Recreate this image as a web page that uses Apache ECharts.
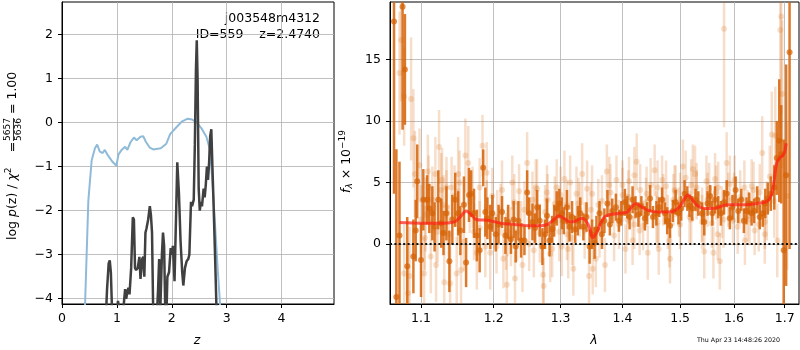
<!DOCTYPE html>
<html>
<head>
<meta charset="utf-8">
<script src="https://cdn.jsdelivr.net/npm/echarts@6/dist/echarts.min.js"></script>
<style>
  html, body { margin: 0; padding: 0; background: #fff; }
  #main { width: 800px; height: 350px; }
</style>
</head>
<body>
<div id="main"></div>
<script>
// ---- left panel: log p(z) ----
const zBlue = [0.38, 0.42, 0.48, 0.54, 0.60, 0.64, 0.69, 0.74, 0.78, 0.84, 0.92, 0.99, 1.03, 1.08, 1.15, 1.19, 1.25, 1.31, 1.36, 1.43, 1.48, 1.53, 1.60, 1.66, 1.80, 1.90, 1.97, 2.08, 2.19, 2.29, 2.37, 2.45, 2.54, 2.63, 2.69, 2.73, 2.78, 2.84, 2.90, 2.95]
const lpBlue = [-6.0, -4.13, -1.77, -0.86, -0.58, -0.50, -0.66, -0.69, -0.62, -0.75, -0.89, -0.98, -0.72, -0.63, -0.55, -0.62, -0.44, -0.34, -0.40, -0.32, -0.31, -0.44, -0.57, -0.61, -0.58, -0.48, -0.26, -0.11, 0.03, 0.09, 0.07, 0.01, -0.13, -0.32, -0.59, -1.16, -2.15, -3.4, -4.5, -5.5]

const zDark = [0.78, 0.82, 0.85, 0.87, 0.89, 0.91, 0.94, 0.98, 1.02, 1.05, 1.08, 1.12, 1.15, 1.17, 1.19, 1.21, 1.23, 1.26, 1.29, 1.31, 1.33, 1.35, 1.38, 1.41, 1.43, 1.46, 1.48, 1.50, 1.52, 1.54, 1.57, 1.60, 1.62, 1.64, 1.66, 1.69, 1.72, 1.75, 1.77, 1.79, 1.82, 1.84, 1.86, 1.88, 1.90, 1.92, 1.95, 1.98, 2.00, 2.02, 2.05, 2.08, 2.10, 2.13, 2.16, 2.19, 2.21, 2.24, 2.27, 2.30, 2.32, 2.35, 2.37, 2.40, 2.42, 2.44, 2.455, 2.47, 2.49, 2.51, 2.53, 2.55, 2.58, 2.60, 2.62, 2.64, 2.66, 2.68, 2.70, 2.72, 2.74, 2.76, 2.79, 2.82, 2.85]
const lpDark = [-5.0, -3.8, -3.2, -3.13, -3.4, -4.2, -5.0, -4.6, -4.05, -4.3, -4.6, -4.2, -3.78, -4.0, -3.85, -3.75, -3.9, -3.3, -2.15, -2.2, -3.3, -3.35, -3.3, -3.05, -3.55, -3.1, -3.05, -3.5, -2.5, -2.4, -2.2, -1.9, -2.1, -2.5, -4.2, -5.0, -4.6, -3.8, -3.1, -4.3, -3.0, -2.5, -2.8, -4.2, -4.5, -3.5, -3.4, -2.85, -3.0, -2.8, -3.6, -2.0, -0.9, -1.6, -2.7, -3.4, -3.7, -3.3, -3.15, -3.1, -3.0, -1.8, -1.9, -1.75, -0.5, 1.2, 1.87, 1.0, -1.5, -2.0, -1.8, -1.9, -1.5, -1.7, -1.4, -1.0, -1.3, -0.9, -0.3, -0.15, -1.0, -1.8, -3.1, -4.5, -5.0]

const zTicks = [0, 1, 2, 3, 4]
const lpTicks = [-4, -3, -2, -1, 0, 1, 2]

// ---- right panel: spectrum ----
const lamDark = [1.065, 1.068, 1.072, 1.076, 1.079, 1.082, 1.090, 1.093, 1.095, 1.100, 1.103, 1.108, 1.111, 1.115, 1.118, 1.123, 1.127, 1.130, 1.134, 1.138, 1.142, 1.146, 1.150, 1.153, 1.158, 1.161, 1.165, 1.168, 1.172, 1.176, 1.180, 1.185, 1.188, 1.191, 1.195,
  1.198, 1.203, 1.207, 1.212, 1.217, 1.221, 1.225, 1.229, 1.232, 1.236, 1.240, 1.245, 1.249, 1.252, 1.257, 1.261, 1.264, 1.268, 1.272, 1.276, 1.279, 1.283, 1.287, 1.290, 1.294, 1.298, 1.302, 1.305, 1.310, 1.314, 1.318, 1.323, 1.327, 1.331, 1.336, 1.341, 1.346, 1.350,
  1.354, 1.357, 1.362, 1.366, 1.370, 1.375, 1.379, 1.383, 1.389, 1.394, 1.398, 1.404, 1.408, 1.412, 1.417, 1.422, 1.427, 1.432, 1.438, 1.442, 1.447, 1.452, 1.458, 1.463, 1.468, 1.473, 1.477, 1.482, 1.487, 1.492, 1.497, 1.502, 1.508, 1.513, 1.517, 1.522, 1.528,
  1.533, 1.540, 1.544, 1.550, 1.555, 1.559, 1.564, 1.570, 1.575, 1.581, 1.586, 1.592, 1.597, 1.603, 1.608, 1.614, 1.619, 1.624, 1.629, 1.634, 1.639, 1.645, 1.650, 1.656, 1.661, 1.666, 1.672, 1.679, 1.684, 1.689, 1.693, 1.698, 1.703, 1.710]
const fluxDark = [18.1, -4.3, 0.7, 19.3, 14.2, -1.8, -1.0, 1.1, 5.1, -1.3, 3.6, 3.6, 2.9, 2.5, 1.4, 3.6, 1.7, 0.9, 2.5, -1.4, 2.0, 3.6, 2.5, 1.1, 3.2, -1.5, 4.0, 4.1, 2.5, 0.7, -0.5, 6.2, 2.6, 2.1, 1.4,
  2.5, 0.8, 1.6, 2.6, 0.7, 1.8, 0.4, 2.0, -0.2, 1.9, 0.3, 0.3, 4.2, 2.5, 1.8, 1.3, 3.0, 1.9, -0.2, 0.8, 2.3, 0.3, 1.2, 1.9, 2.9, 3.3, 2.5, 1.9, 3.0, 1.4, 2.2, 1.2, 1.9, 2.5, 1.4, 2.2, -0.2, 0.8,
  0.1, 1.2, 2.5, 0.8, 1.9, 3.3, 1.6, 2.7, 3.0, 1.9, 2.5, 3.4, 3.0, 2.2, 3.6, 3.0, 2.4, 3.1, 2.1, 2.5, 3.7, 2.2, 2.5, 3.0, 3.6, 2.5, 1.9, 1.5, 2.7, 3.4, 2.5, 2.9, 4.1, 3.7, 3.1, 2.9, 3.6,
  3.3, 2.5, 1.8, 3.3, 3.9, 2.5, 3.6, 3.0, 2.5, 3.4, 4.1, 2.1, 3.0, 4.4, 2.7, 3.6, 1.9, 2.7, 3.3, 2.5, 2.7, 3.6, 2.2, 2.5, 3.3, 3.7, 4.1, 4.6, 7.0, 8.4, 7.3, -0.5, 5.6, 15.6]
const errDark = [14, 12, 6, 10, 4.5, 4, 3, 2.5, 3, 3, 2.5, 2, 2, 2.2, 2, 2.4, 2, 1.8, 2.2, 2.5, 2, 2.2, 1.8, 2, 2.3, 2, 2.2, 1.9, 2, 2.1, 1.8, 1.5, 2, 1.7, 1.8,
  1.5, 1.4, 1.6, 1.3, 1.5, 1.4, 1.2, 1.5, 1.3, 1.6, 1.4, 1.2, 1.8, 1.3, 1.5, 1.2, 1.4, 1.3, 1.5, 1.2, 1.4, 1.3, 1.1, 1.3, 1.4, 1.2, 1.3, 1.1, 1.4, 1.2, 1.3, 1.1, 1.2, 1.3, 1.1, 1.2, 1.4, 1.2,
  1.3, 1.1, 1.0, 1.2, 1.0, 1.1, 0.9, 1.0, 1.1, 0.9, 1.0, 1.1, 0.9, 1.0, 1.1, 0.9, 1.0, 0.8, 1.0, 0.9, 1.1, 0.9, 1.0, 0.8, 1.0, 0.9, 1.1, 1.0, 0.9, 1.0, 0.9, 1.0, 1.1, 1.0, 0.9, 1.0, 0.9,
  1.0, 0.9, 1.1, 1.0, 0.9, 1.0, 1.1, 0.9, 1.0, 1.0, 1.1, 0.9, 1.0, 1.1, 1.0, 0.9, 1.0, 1.1, 0.9, 1.0, 1.0, 1.1, 1.0, 1.1, 1.2, 1.3, 1.4, 1.8, 3.0, 5.0, 4.0, 9.0, 9.0, 16.0]

const lamLight = [1.074, 1.072, 1.078, 1.087, 1.090, 1.092, 1.098, 1.109, 1.119, 1.124, 1.127, 1.134, 1.141, 1.150, 1.160, 1.164, 1.184, 1.190, 1.078, 1.085, 1.113, 1.120, 1.131, 1.139, 1.148, 1.154, 1.176, 1.195, 1.134, 1.106, 1.083, 1.104,
  1.249, 1.237, 1.219, 1.231, 1.214, 1.242, 1.273, 1.274, 1.279, 1.264, 1.294, 1.315, 1.334, 1.342, 1.320, 1.312, 1.345, 1.204, 1.225, 1.257, 1.259, 1.287, 1.302, 1.325, 1.350,
  1.374, 1.390, 1.424, 1.455, 1.505, 1.523, 1.492, 1.441, 1.411, 1.475, 1.371, 1.356, 1.351, 1.405, 1.443, 1.462, 1.482, 1.481, 1.386, 1.429, 1.517, 1.362, 1.417,
  1.581, 1.586, 1.655, 1.674, 1.693, 1.691, 1.695, 1.681, 1.705, 1.544, 1.561, 1.573, 1.621, 1.660, 1.685, 1.569, 1.607, 1.640, 1.527, 1.564, 1.601, 1.634, 1.670, 1.679, 1.553, 1.589,
  1.11, 1.13, 1.15, 1.17, 1.19, 1.21, 1.23, 1.24, 1.26, 1.28, 1.30, 1.31, 1.33, 1.36, 1.38, 1.40, 1.41, 1.43, 1.44, 1.46, 1.47, 1.49, 1.50, 1.52, 1.53, 1.55, 1.57, 1.58, 1.60, 1.62, 1.63, 1.65, 1.66, 1.42, 1.46, 1.50, 1.54, 1.31, 1.22, 1.18,
  1.100, 1.105, 1.115, 1.122, 1.128, 1.137, 1.145, 1.152, 1.158, 1.166, 1.172, 1.180, 1.188, 1.198, 1.205, 1.212, 1.218, 1.227, 1.234, 1.245, 1.252, 1.262, 1.268, 1.276, 1.284, 1.291, 1.298, 1.306, 1.318, 1.328, 1.338, 1.348, 1.366, 1.378, 1.394, 1.400, 1.408, 1.420, 1.435, 1.448, 1.458, 1.468, 1.478, 1.488, 1.498, 1.510, 1.520, 1.530, 1.540, 1.548, 1.558, 1.566, 1.577, 1.592, 1.598, 1.612, 1.626, 1.638, 1.648, 1.664]
const fluxLight = [16.6, 13.9, 12.0, 11.8, 8.6, 5.7, 6.4, 5.9, 5.7, 7.9, 4.4, 4.6, 4.6, 5.7, 7.2, 6.6, 8.0, 5.8, -2.4, -2.6, -1.0, -1.7, -3.1, -3.2, -2.4, -2.1, -0.7, -0.7, 3.0, 2.4, -4.0, -2.4,
  6.6, 4.3, -3.3, -2.8, -1.2, -1.7, -2.5, -3.4, 4.2, 4.5, 4.6, 5.0, 5.7, 4.5, -2.0, -0.4, -2.6, -0.2, 0.6, 3.6, -0.5, -0.4, -0.2, 4.1, 4.1,
  5.9, 5.2, 6.7, 6.0, 6.3, 6.1, 4.3, 4.1, 5.1, 4.7, -1.7, -1.2, -2.0, -0.4, -0.7, -0.4, -1.2, 0.3, 0.7, 1.1, 2.2, 1.1, 0.3,
  17.5, 6.6, 7.4, 8.9, 18.5, 17.4, 12.2, 8.8, 3.9, -0.6, -0.7, -1.4, 0.3, 0.8, 0.3, 0.8, 1.4, 1.1, 5.7, 5.3, 5.2, 4.7, 5.5, 3.5, 4.5, 3.6,
  4.6, 3.2, 2.2, 3.8, 3.0, 2.8, 3.4, 1.5, 2.2, 3.6, 4.0, 3.2, 2.8, 3.2, 4.2, 4.8, 3.8, 4.4, 3.4, 4.6, 3.6, 4.4, 3.6, 4.8, 4.0, 3.6, 4.6, 2.0, 3.8, 4.6, 2.0, 4.2, 1.8, 1.6, 1.8, 1.6, 1.8, 0.8, 1.0, 1.3,
  2.0, 0.5, 3.6, 1.0, 5.2, 0.8, 3.9, 5.0, 0.2, 3.4, 1.0, 4.6, -0.2, 3.9, 2.2, 4.4, 0.2, 5.0, 1.0, 2.8, 0.0, 4.6, 0.9, 2.6, -0.8, 3.3, 1.0, 5.3, 0.5, 3.3, 1.1, 2.8, 3.5, 4.8, 1.6, 4.0, 2.0, 5.6, 1.5, 4.8, 2.2, 5.2, 1.8, 3.6, 2.6, 5.4, 2.0, 4.6, 2.4, 5.1, 1.7, 4.2, 2.6, 4.9, 1.9, 3.8, 2.3, 4.4, 1.6, 2.7]
const errLight = [5, 5, 4, 5, 4, 3.5, 3, 3, 3, 3, 3, 2.5, 2.5, 3, 3, 3, 2.5, 2.5, 4, 4, 3, 3, 3, 3, 3, 3, 3, 3, 3, 3, 4, 3,
  2.5, 2.2, 2.5, 2.2, 2.4, 2.2, 2.5, 2.3, 2.2, 2.4, 2.3, 2.2, 2.5, 2.3, 2.2, 2.4, 2.3, 2.2, 2.4, 2.3, 2.2, 2.3, 2.4, 2.2, 2.3,
  2.2, 2.0, 2.3, 2.1, 2.2, 2.0, 2.1, 2.2, 2.0, 2.1, 2.2, 2.3, 2.1, 2.0, 2.2, 2.1, 2.0, 2.2, 2.1, 2.0, 2.1, 2.2, 2.0,
  8, 2.5, 3, 3.5, 8, 8, 6, 4, 6, 2.2, 2.1, 2.3, 2.0, 2.4, 3.0, 2.1, 2.2, 2.0, 2.3, 2.1, 2.0, 2.2, 2.5, 3.0, 2.1, 2.2,
  2.6, 2.4, 2.3, 2.5, 2.2, 2.1, 2.3, 2.0, 2.2, 2.1, 2.3, 2.0, 2.2, 2.1, 2.3, 2.0, 2.2, 2.1, 2.0, 2.2, 2.1, 2.0, 2.2, 2.1, 2.0, 2.2, 2.1, 2.3, 2.0, 2.2, 2.1, 2.3, 2.2, 2.0, 2.1, 2.0, 2.2, 2.1, 2.0, 2.2,
  2.8, 2.6, 2.7, 2.5, 2.6, 2.4, 2.5, 2.6, 2.4, 2.5, 2.3, 2.4, 2.5, 2.3, 2.2, 2.4, 2.3, 2.2, 2.4, 2.3, 2.2, 2.3, 2.4, 2.2, 2.3, 2.2, 2.4, 2.3, 2.2, 2.1, 2.3, 2.2, 2.1, 2.3, 2.0, 2.2, 2.1, 2.3, 2.0, 2.2, 2.1, 2.0, 2.2, 2.1, 2.0, 2.2, 2.1, 2.0, 2.2, 2.1, 2.0, 2.2, 2.1, 2.3, 2.0, 2.2, 2.1, 2.3, 2.2, 2.4]

// best-fit model
const lamModel = [1.072, 1.10, 1.13, 1.145, 1.153, 1.161, 1.168, 1.175, 1.185, 1.195, 1.21, 1.23, 1.25, 1.27, 1.28, 1.29, 1.297, 1.305, 1.315, 1.325, 1.333, 1.34, 1.346, 1.351, 1.357, 1.363, 1.370, 1.38, 1.396, 1.408, 1.415, 1.422, 1.43, 1.443, 1.46, 1.478, 1.49, 1.50, 1.508, 1.514, 1.522, 1.532, 1.545, 1.56, 1.588, 1.62, 1.645, 1.66, 1.668, 1.674, 1.678, 1.684, 1.690, 1.696, 1.700, 1.703]
const fluxModel = [1.75, 1.7, 1.7, 1.8, 2.2, 2.7, 2.4, 2.0, 1.95, 1.9, 1.7, 1.6, 1.5, 1.5, 1.6, 2.0, 2.3, 2.1, 1.8, 1.9, 2.1, 1.9, 1.3, 0.5, 0.9, 1.6, 2.2, 2.4, 2.5, 2.6, 3.0, 3.3, 3.1, 2.76, 2.6, 2.6, 2.7, 3.1, 3.7, 4.0, 3.6, 3.1, 2.9, 2.9, 3.2, 3.2, 3.3, 3.4, 3.6, 4.1, 5.0, 6.6, 7.0, 7.2, 7.5, 8.2]

const lamTicks = [1.1, 1.2, 1.3, 1.4, 1.5, 1.6, 1.7]
const fluxTicks = [0, 5, 10, 15]

const FONT = 'DejaVu Sans'
const lamMin = 1.0599
const lamMax = 1.7294
const log10 = Math.log10

const chart = echarts.init(document.getElementById('main'))

function zip (xs, ys) {
  return xs.map((x, i) => [x, ys[i]])
}

// error bars through the axis coordinates
function errorBars (lam, flux, err, color, width) {
  return {
    type: 'custom',
    xAxisIndex: 1,
    yAxisIndex: 1,
    clip: true,
    silent: true,
    data: lam.map((l, i) => [log10(l), flux[i] - err[i], flux[i] + err[i]]),
    renderItem: function (params, api) {
      const lo = api.coord([api.value(0), api.value(1)])
      const hi = api.coord([api.value(0), api.value(2)])
      return {
        type: 'line',
        shape: { x1: lo[0], y1: lo[1], x2: hi[0], y2: hi[1] },
        style: { stroke: color, lineWidth: width }
      }
    }
  }
}

function axisCommon (ticks) {
  return {
    axisLine: { show: true, onZero: false, lineStyle: { color: '#000', width: 1 } },
    axisTick: { show: true, length: 4, customValues: ticks, lineStyle: { color: '#000', width: 1 } },
    splitLine: { show: true, lineStyle: { color: '#b0b0b0', width: 0.8 } }
  }
}

const minus = v => String(v).replace('-', '\u2212')

const option = {
  animation: false,
  backgroundColor: '#fff',
  grid: [
    { left: 62, top: 2, width: 272, height: 302, show: true, borderColor: '#000', borderWidth: 1 },
    { left: 390, top: 2, width: 409, height: 302, show: true, borderColor: '#000', borderWidth: 1 }
  ],
  xAxis: [
    Object.assign({
      type: 'value', gridIndex: 0, min: 0, max: 4.955,
      axisLabel: { customValues: zTicks, color: '#000', fontSize: 12.5, fontFamily: FONT, margin: 8 }
    }, axisCommon(zTicks)),
    Object.assign({
      type: 'value', gridIndex: 1, min: log10(lamMin), max: log10(lamMax),
      axisLabel: {
        customValues: lamTicks.map(log10), color: '#000', fontSize: 12.5, fontFamily: FONT, margin: 8,
        formatter: v => Math.pow(10, v).toFixed(1)
      }
    }, axisCommon(lamTicks.map(log10)))
  ],
  yAxis: [
    Object.assign({
      type: 'value', gridIndex: 0, min: -4.12, max: 2.74,
      axisLabel: { customValues: lpTicks, color: '#000', fontSize: 12.5, fontFamily: FONT, margin: 9, formatter: minus }
    }, axisCommon(lpTicks)),
    Object.assign({
      type: 'value', gridIndex: 1, min: -4.87, max: 19.68,
      axisLabel: { customValues: fluxTicks, color: '#000', fontSize: 12.5, fontFamily: FONT, margin: 9 }
    }, axisCommon(fluxTicks))
  ],
  series: [
    {
      type: 'line', xAxisIndex: 0, yAxisIndex: 0, data: zip(zBlue, lpBlue),
      showSymbol: false, clip: true, lineStyle: { color: '#8fbbd9', width: 2 }
    },
    {
      type: 'line', xAxisIndex: 0, yAxisIndex: 0, data: zip(zDark, lpDark),
      showSymbol: false, clip: true, lineStyle: { color: '#404040', width: 2.5 }
    },
    errorBars(lamLight, fluxLight, errLight, 'rgba(217,104,12,0.22)', 2.5),
    {
      type: 'scatter', xAxisIndex: 1, yAxisIndex: 1, symbolSize: 6, silent: true,
      data: zip(lamLight.map(log10), fluxLight),
      itemStyle: { color: 'rgba(217,104,12,0.25)' }
    },
    errorBars(lamDark, fluxDark, errDark, 'rgba(214,98,6,0.85)', 2.5),
    {
      type: 'scatter', xAxisIndex: 1, yAxisIndex: 1, symbolSize: 6, silent: true,
      data: zip(lamDark.map(log10), fluxDark),
      itemStyle: { color: 'rgba(214,98,6,0.9)' }
    },
    {
      type: 'line', xAxisIndex: 1, yAxisIndex: 1, data: zip(lamModel.map(log10), fluxModel),
      showSymbol: false, smooth: 0.3, lineStyle: { color: 'rgba(255,30,20,0.7)', width: 3 }
    },
    {
      type: 'line', xAxisIndex: 1, yAxisIndex: 1, data: [[log10(lamMin), 0], [log10(lamMax), 0]],
      showSymbol: false, lineStyle: { color: '#111', width: 2, type: [2, 2.4] }
    }
  ],
  graphic: [
    {
      type: 'text', x: 320, y: 19,
      style: { text: 'j003548m4312', align: 'right', verticalAlign: 'middle', font: '12.5px "DejaVu Sans"', fill: '#000' }
    },
    {
      type: 'text', x: 320, y: 35,
      style: { text: 'ID=559    z=2.4740', align: 'right', verticalAlign: 'middle', font: '12.5px "DejaVu Sans"', fill: '#000' }
    },
    {
      // y label, left panel
      type: 'group', x: 13, y: 240, rotation: Math.PI / 2,
      children: [
        {
          type: 'text', x: 0, y: 0,
          style: {
            text: '{a|log }{i|p}{a|(z) / }{i|χ}{s|2}',
            align: 'left', verticalAlign: 'middle',
            rich: {
              a: { fontSize: 12.5, fontFamily: FONT, fill: '#000' },
              i: { fontSize: 12.5, fontFamily: FONT, fontStyle: 'italic', fill: '#000' },
              s: { fontSize: 9, fontFamily: FONT, fill: '#000', padding: [0, 0, 9, 0] }
            }
          }
        },
        { type: 'text', x: 93, y: 0, style: { text: '=', align: 'center', verticalAlign: 'middle', font: '12.5px "DejaVu Sans"', fill: '#000' } },
        { type: 'text', x: 110.5, y: -5, style: { text: '5657', align: 'center', verticalAlign: 'middle', font: '9px "DejaVu Sans"', fill: '#000' } },
        { type: 'line', shape: { x1: 99, y1: 0.5, x2: 122, y2: 0.5 }, style: { stroke: '#000', lineWidth: 0.8 } },
        { type: 'text', x: 110.5, y: 6, style: { text: '5636', align: 'center', verticalAlign: 'middle', font: '9px "DejaVu Sans"', fill: '#000' } },
        { type: 'text', x: 126, y: 0, style: { text: '= 1.00', align: 'left', verticalAlign: 'middle', font: '12.5px "DejaVu Sans"', fill: '#000' } }
      ]
    },
    {
      // y label, right panel
      type: 'group', x: 347, y: 193, rotation: Math.PI / 2,
      children: [
        {
          type: 'text', x: 0, y: 0,
          style: {
            text: '{i|f}{b|λ}{a| × 10}{s|−19}',
            align: 'left', verticalAlign: 'middle',
            rich: {
              a: { fontSize: 12.5, fontFamily: FONT, fill: '#000' },
              i: { fontSize: 12.5, fontFamily: FONT, fontStyle: 'italic', fill: '#000' },
              b: { fontSize: 9, fontFamily: FONT, fontStyle: 'italic', fill: '#000', padding: [6, 0, 0, 0] },
              s: { fontSize: 9, fontFamily: FONT, fill: '#000', padding: [0, 0, 9, 0] }
            }
          }
        }
      ]
    },
    {
      type: 'text', x: 197, y: 341,
      style: { text: 'z', align: 'center', verticalAlign: 'middle', font: 'italic 12.5px "DejaVu Sans"', fill: '#000' }
    },
    {
      type: 'text', x: 594, y: 341,
      style: { text: 'λ', align: 'center', verticalAlign: 'middle', font: 'italic 12.5px "DejaVu Sans"', fill: '#000' }
    },
    {
      type: 'text', x: 697, y: 340,
      style: { text: 'Thu Apr 23 14:48:26 2020', align: 'left', verticalAlign: 'middle', font: '6.3px "DejaVu Sans"', fill: '#000' }
    }
  ]
}

chart.setOption(option)
</script>
</body>
</html>
